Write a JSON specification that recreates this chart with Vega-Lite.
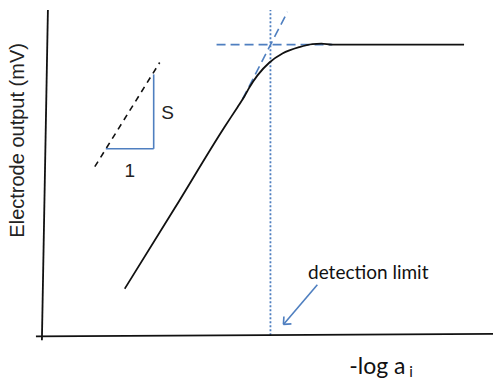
{
  "$schema": "https://vega.github.io/schema/vega-lite/v6.json",
  "width": 494,
  "height": 380,
  "autosize": {"type": "fit", "contains": "padding"},
  "padding": 0,
  "background": "white",
  "config": {"view": {"stroke": null}},
  "datasets": {
    "frame": [
      {"x": 0.84, "y": 0.74, "x2": 0.96, "y2": 7.4},
      {"x": 0.72, "y": 0.82, "x2": 9.88, "y2": 0.87}
    ],
    "response": [
      {"x": 2.5, "y": 1.78},
      {"x": 3.5, "y": 3.4},
      {"x": 4.5, "y": 5.04},
      {"x": 4.76, "y": 5.44},
      {"x": 4.9, "y": 5.66},
      {"x": 5.0, "y": 5.84},
      {"x": 5.16, "y": 6.08},
      {"x": 5.4, "y": 6.34},
      {"x": 5.66, "y": 6.52},
      {"x": 6.0, "y": 6.65},
      {"x": 6.26, "y": 6.71},
      {"x": 6.44, "y": 6.72},
      {"x": 6.66, "y": 6.7},
      {"x": 9.3, "y": 6.7}
    ],
    "extrapolations": [
      {"x": 4.34, "y": 6.7, "x2": 6.66, "y2": 6.7},
      {"x": 4.86, "y": 5.6, "x2": 5.76, "y2": 7.36}
    ],
    "limit": [
      {"x": 5.42, "y": 0.84, "x2": 5.42, "y2": 7.4}
    ],
    "slopeGuide": [
      {"x": 1.9, "y": 4.24, "x2": 3.2, "y2": 6.34}
    ],
    "slopeTriangle": [
      {"x": 2.12, "y": 4.6, "x2": 3.08, "y2": 4.6},
      {"x": 3.08, "y": 4.6, "x2": 3.08, "y2": 6.1}
    ],
    "pointer": [
      {"x": 6.36, "y": 1.86, "x2": 5.68, "y2": 1.06},
      {"x": 5.69, "y": 1.22, "x2": 5.68, "y2": 1.06},
      {"x": 5.84, "y": 1.07, "x2": 5.68, "y2": 1.06}
    ]
  },
  "encoding": {
    "x": {"field": "x", "type": "quantitative", "scale": {"domain": [0, 9.88], "nice": false, "zero": false}, "axis": null},
    "y": {"field": "y", "type": "quantitative", "scale": {"domain": [0, 7.6], "nice": false, "zero": false}, "axis": null}
  },
  "layer": [
    {
      "data": {"name": "extrapolations"},
      "mark": {"type": "rule", "color": "#4f7fc0", "strokeWidth": 1.6, "strokeDash": [9, 5]},
      "encoding": {"x2": {"field": "x2"}, "y2": {"field": "y2"}}
    },
    {
      "data": {"name": "limit"},
      "mark": {"type": "rule", "color": "#4f7fc0", "strokeWidth": 1.8, "strokeDash": [2, 2]},
      "encoding": {"x2": {"field": "x2"}, "y2": {"field": "y2"}}
    },
    {
      "data": {"name": "frame"},
      "mark": {"type": "rule", "color": "#111111", "strokeWidth": 1.8},
      "encoding": {"x2": {"field": "x2"}, "y2": {"field": "y2"}}
    },
    {
      "data": {"name": "response"},
      "mark": {"type": "line", "color": "#111111", "strokeWidth": 1.8, "interpolate": "monotone"},
      "encoding": {}
    },
    {
      "data": {"name": "slopeGuide"},
      "mark": {"type": "rule", "color": "#111111", "strokeWidth": 1.6, "strokeDash": [6, 5]},
      "encoding": {"x2": {"field": "x2"}, "y2": {"field": "y2"}}
    },
    {
      "data": {"name": "slopeTriangle"},
      "mark": {"type": "rule", "color": "#4f7fc0", "strokeWidth": 1.6},
      "encoding": {"x2": {"field": "x2"}, "y2": {"field": "y2"}}
    },
    {
      "data": {"name": "pointer"},
      "mark": {"type": "rule", "color": "#4f7fc0", "strokeWidth": 1.6},
      "encoding": {"x2": {"field": "x2"}, "y2": {"field": "y2"}}
    },
    {
      "data": {"values": [{"label": "Electrode output (mV)", "x": 0.36, "y": 4.77}]},
      "mark": {"type": "text", "font": "Liberation Sans", "fontSize": 20, "angle": 270, "align": "center", "baseline": "middle", "color": "#222222"},
      "encoding": {"text": {"field": "label"}}
    },
    {
      "data": {"values": [{"label": "S", "x": 3.36, "y": 5.32}, {"label": "1", "x": 2.6, "y": 4.16}]},
      "mark": {"type": "text", "font": "Liberation Sans", "fontSize": 19, "align": "center", "baseline": "middle", "color": "#222222"},
      "encoding": {"text": {"field": "label"}}
    },
    {
      "data": {"values": [{"label": "detection limit", "x": 7.38, "y": 2.1}]},
      "mark": {"type": "text", "font": "Lato", "fontSize": 19, "align": "center", "baseline": "middle", "color": "#111111"},
      "encoding": {"text": {"field": "label"}}
    },
    {
      "data": {"values": [{"label": "-log a", "x": 7.0, "y": 0.06}]},
      "mark": {"type": "text", "font": "Lato", "fontSize": 23, "align": "left", "baseline": "alphabetic", "color": "#111111"},
      "encoding": {"text": {"field": "label"}}
    },
    {
      "data": {"values": [{"label": "i", "x": 8.2, "y": 0.01}]},
      "mark": {"type": "text", "font": "Lato", "fontSize": 15, "align": "left", "baseline": "alphabetic", "color": "#111111"},
      "encoding": {"text": {"field": "label"}}
    }
  ]
}
